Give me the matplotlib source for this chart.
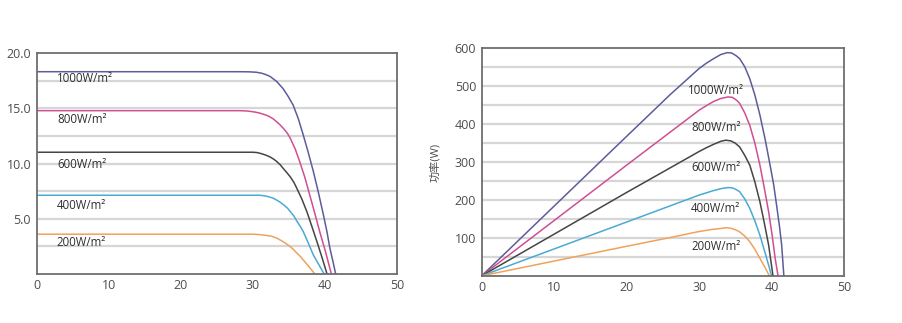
import matplotlib.pyplot as plt

plt.rcParams.update(
    {
        "font.family": ["Open Sans", "Noto Sans CJK SC", "DejaVu Sans"],
        "font.size": 9,
    }
)

LABELS = ["1000W/m²", "800W/m²", "600W/m²", "400W/m²", "200W/m²"]
COLORS = ["#5c5c9c", "#cf4f92", "#454545", "#4aaad4", "#eea35a"]
GRID_COLOR = "#d6d6d6"
FRAME_COLOR = "#6e6e6e"
TICK_COLOR = "#4d4d4d"
TEXT_COLOR = "#2e2e2e"

# ── ВАХ: напряжение (В) / ток (А) ───────────────────────────────────────────
iv_v_1000 = [0, 28, 29.5, 30.5, 31.2, 31.8, 32.4, 33.3, 34.2, 34.9, 35.6, 36.3, 37.0, 37.7, 38.4, 39.1, 39.8, 40.3, 40.7, 41.1, 41.5]
iv_i_1000 = [18.33, 18.33, 18.32, 18.28, 18.2, 18.07, 17.9, 17.45, 16.8, 16.1, 15.3, 14.1, 12.6, 11.0, 9.3, 7.4, 5.35, 3.8, 2.33, 1.2, 0]
iv_v_800 = [0, 28.2, 29.2, 29.8, 30.4, 31.0, 31.6, 32.2, 32.8, 33.3, 33.8, 34.3, 34.8, 35.2, 35.9, 36.5, 37.2, 37.9, 38.6, 39.3, 40.1, 40.9]
iv_i_800 = [14.8, 14.8, 14.77, 14.72, 14.66, 14.57, 14.45, 14.3, 14.07, 13.8, 13.5, 13.15, 12.75, 12.3, 11.3, 10.2, 8.8, 7.16, 5.5, 3.8, 2.0, 0]
iv_v_600 = [0, 30, 30.6, 31.2, 31.8, 32.4, 32.9, 33.3, 33.8, 34.2, 34.7, 35.2, 35.7, 36.1, 36.8, 37.5, 38.2, 38.9, 39.6, 40.3]
iv_i_600 = [11.03, 11.03, 11.0, 10.9, 10.77, 10.6, 10.4, 10.2, 9.9, 9.58, 9.2, 8.8, 8.3, 7.77, 6.8, 5.65, 4.3, 2.93, 1.5, 0]
iv_v_400 = [0, 31, 31.6, 32.2, 32.8, 33.3, 33.8, 34.3, 34.8, 35.2, 35.7, 36.1, 36.6, 37.0, 37.7, 38.4, 39.2, 39.9]
iv_i_400 = [7.13, 7.13, 7.08, 7.0, 6.87, 6.7, 6.5, 6.25, 5.97, 5.65, 5.25, 4.8, 4.3, 3.84, 2.8, 1.72, 0.8, 0]
iv_v_200 = [0, 30, 30.8, 31.5, 32.2, 32.8, 33.4, 34.0, 34.6, 35.2, 35.7, 36.1, 36.6, 37.0, 37.8, 38.6]
iv_i_200 = [3.6, 3.6, 3.57, 3.52, 3.46, 3.38, 3.22, 3.0, 2.75, 2.47, 2.18, 1.9, 1.58, 1.27, 0.65, 0]

# ── P-V: напряжение (В) / мощность (Вт) ─────────────────────────────────────
pv_v_1000 = [0, 10, 20, 26, 30, 31, 32, 33, 33.9, 34.5, 35.1, 35.6, 36.3, 37.0, 37.7, 38.4, 39.1, 39.8, 40.3, 40.7, 41.1, 41.4, 41.7]
pv_p_1000 = [0, 184, 368, 478, 547, 561, 573, 584, 589, 588, 581, 573, 552, 520, 477, 424, 362, 292, 240, 186, 130, 81, 0]
pv_v_800 = [0, 10, 20, 30, 31, 32, 33, 34, 34.6, 35.2, 35.6, 36.3, 37.0, 37.7, 38.4, 39.0, 39.6, 40.1, 40.5, 40.9]
pv_p_800 = [0, 146, 292, 437, 449, 460, 468, 472, 471, 463, 455, 430, 397, 350, 292, 232, 169, 105, 46, 0]
pv_v_600 = [0, 10, 20, 30, 31, 32, 33, 33.7, 34.4, 35.0, 35.6, 36.3, 37.0, 37.7, 38.4, 39.0, 39.6, 40.2]
pv_p_600 = [0, 110, 220, 328, 338, 347, 355, 358, 356, 350, 340, 318, 292, 248, 195, 140, 81, 0]
pv_v_400 = [0, 10, 20, 30, 31, 32, 33, 34, 34.6, 35.1, 35.6, 36.3, 37.0, 37.7, 38.4, 39.0, 39.6, 40.0]
pv_p_400 = [0, 71, 142, 213, 219, 225, 230, 233, 232, 228, 222, 203, 178, 145, 107, 68, 28, 0]
pv_v_200 = [0, 10, 20, 26, 30, 31, 32, 33, 33.8, 34.5, 35.1, 35.6, 36.3, 37.0, 37.7, 38.4, 39.1, 39.7]
pv_p_200 = [0, 39, 78, 101, 117, 120, 123, 125, 127, 125, 121, 116, 105, 90, 70, 46, 22, 0]

# позиции подписей кривых (данные)
iv_label_y = [17.7, 14.0, 9.9, 6.2, 2.85]
pv_label_y = [490, 391, 287, 178, 77]

iv_curves = [
    (iv_v_1000, iv_i_1000),
    (iv_v_800, iv_i_800),
    (iv_v_600, iv_i_600),
    (iv_v_400, iv_i_400),
    (iv_v_200, iv_i_200),
]
pv_curves = [
    (pv_v_1000, pv_p_1000),
    (pv_v_800, pv_p_800),
    (pv_v_600, pv_p_600),
    (pv_v_400, pv_p_400),
    (pv_v_200, pv_p_200),
]


def style_axes(ax, ymax, ystep, yticks, yfmt):
    ax.set_xlim(0, 50)
    ax.set_ylim(0, ymax)
    y = ystep
    while y < ymax:
        ax.axhline(y, color=GRID_COLOR, linewidth=1.6, zorder=1)
        y += ystep
    ax.set_xticks([0, 10, 20, 30, 40, 50])
    ax.set_yticks(yticks)
    ax.set_yticklabels([yfmt.format(t) for t in yticks])
    ax.tick_params(length=0, colors=TICK_COLOR, labelsize=9, pad=4)
    for sp in ax.spines.values():
        sp.set_color(FRAME_COLOR)
        sp.set_linewidth(1.3)
        sp.set_zorder(5)


fig = plt.figure(figsize=(9.02, 3.23), dpi=100)
ax1 = fig.add_axes([0.0407, 0.152, 0.3993, 0.683])
ax2 = fig.add_axes([0.534, 0.146, 0.4017, 0.704])

style_axes(ax1, 20, 2.5, [5, 10, 15, 20], "{:.1f}")
for (v, i), c in zip(iv_curves, COLORS):
    ax1.plot(v, i, color=c, linewidth=1.1, zorder=3, solid_joinstyle="round")
for lab, y in zip(LABELS, iv_label_y):
    ax1.text(2.8, y, lab, ha="left", va="center", fontsize=8.3, color=TEXT_COLOR, zorder=4)

style_axes(ax2, 600, 50, [100, 200, 300, 400, 500, 600], "{:.0f}")
for (v, p), c in zip(pv_curves, COLORS):
    ax2.plot(v, p, color=c, linewidth=1.1, zorder=3, solid_joinstyle="round")
for lab, y in zip(LABELS, pv_label_y):
    ax2.text(32.3, y, lab, ha="center", va="center", fontsize=8.3, color=TEXT_COLOR, zorder=4)
ax2.set_ylabel("功率(W)", fontsize=8, color=TICK_COLOR, labelpad=10)

fig.savefig("out.png", dpi=100)
